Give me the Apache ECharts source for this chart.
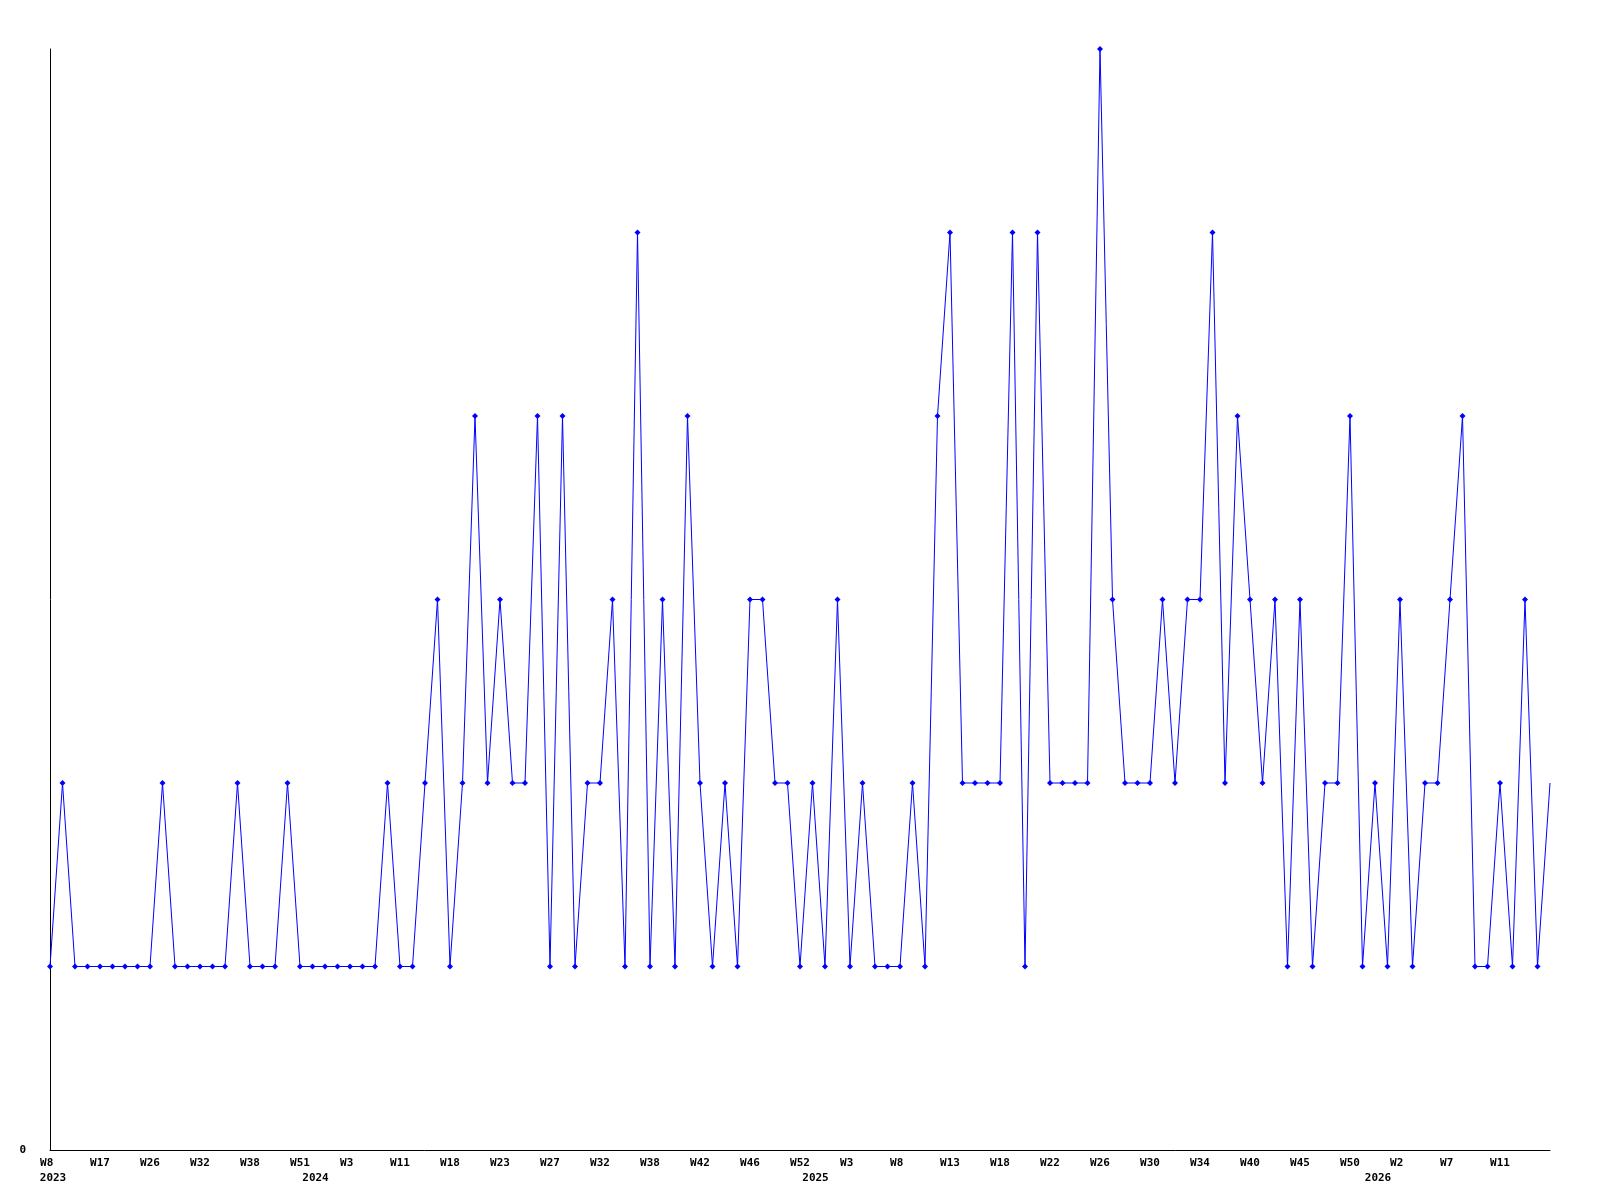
<!DOCTYPE html>
<html>
<head>
<meta charset="utf-8">
<script src="https://cdn.jsdelivr.net/npm/echarts@6/dist/echarts.min.js"></script>
<style>
  html, body { margin: 0; padding: 0; background: #ffffff; }
  #chart { width: 1600px; height: 1200px; }
</style>
</head>
<body>
<div id="chart"></div>
<script>
// Week categories (one per data point; every 4th one is labelled on the axis)
const weekLabels = [
  'W8','W10','W12','W14','W17','W19','W21','W23','W26','W27',
  'W29','W30','W32','W33','W35','W36','W38','W41','W45','W48',
  'W51','W52','W1','W2','W3','W5','W7','W9','W11','W13',
  'W15','W16','W18','W19','W20','W22','W23','W24','W25','W26',
  'W27','W28','W30','W31','W32','W34','W35','W37','W38','W39',
  'W40','W41','W42','W43','W44','W45','W46','W47','W49','W51',
  'W52','W53','W1','W2','W3','W4','W5','W7','W8','W9',
  'W10','W12','W13','W14','W15','W17','W18','W19','W20','W21',
  'W22','W23','W24','W25','W26','W27','W28','W29','W30','W31',
  'W32','W33','W34','W35','W37','W38','W40','W41','W43','W44',
  'W45','W46','W47','W49','W50','W51','W52','W1','W2','W3',
  'W4','W5','W7','W8','W9','W10','W11','W12','W13','W14',
  'W15'
];

// Weekly counts
const weeklyCounts = [
  1,2,1,1,1,1,1,1,1,2,
  1,1,1,1,1,2,1,1,1,2,
  1,1,1,1,1,1,1,2,1,1,
  2,3,1,2,4,2,3,2,2,4,
  1,4,1,2,2,3,1,5,1,3,
  1,4,2,1,2,1,3,3,2,2,
  1,2,1,3,1,2,1,1,1,2,
  1,4,5,2,2,2,2,5,1,5,
  2,2,2,2,6,3,2,2,2,3,
  2,3,3,5,2,4,3,2,3,1,
  3,1,2,2,4,1,2,1,3,1,
  2,2,3,4,1,1,2,1,3,1,
  2
];

// Year labels shown on the second row, with the category index they sit under
const yearLabels = ['2023', '2024', '2025', '2026'];
const yearLabelIndex = [0, 21, 61, 106];

// Y axis tick labels
const yTickLabels = ['0'];

const labelFont = {
  fontFamily: 'DejaVu Sans Mono',
  fontWeight: 'bold',
  fontSize: 11,
  color: '#000000'
};

const seriesData = weeklyCounts.map((v, i) =>
  i === weeklyCounts.length - 1 ? { value: v, symbol: 'none' } : v
);

const chart = echarts.init(document.getElementById('chart'), null, { renderer: 'canvas' });
chart.setOption({
  animation: false,
  backgroundColor: '#ffffff',
  grid: { left: 50, right: 50, top: 49, bottom: 50, containLabel: false },
  xAxis: [
    {
      type: 'category',
      data: weekLabels,
      boundaryGap: false,
      position: 'bottom',
      axisLine: { show: true, onZero: false, lineStyle: { color: '#000000', width: 1 } },
      axisTick: { show: false },
      splitLine: { show: false },
      axisLabel: Object.assign({
        margin: 8,
        hideOverlap: false,
        interval: (idx) => idx % 4 === 0 && idx < weekLabels.length - 1,
        formatter: (v) => v.padEnd(3, '\u00a0')
      }, labelFont)
    },
    {
      type: 'category',
      data: weekLabels,
      boundaryGap: false,
      position: 'bottom',
      offset: 15,
      axisLine: { show: false },
      axisTick: { show: false },
      splitLine: { show: false },
      axisLabel: Object.assign({
        margin: 8,
        hideOverlap: false,
        padding: [0, 0, 0, 6],
        interval: (idx) => yearLabelIndex.indexOf(idx) >= 0,
        formatter: (v, idx) => {
          const k = yearLabelIndex.indexOf(idx);
          return k >= 0 ? yearLabels[k] : '';
        }
      }, labelFont)
    }
  ],
  yAxis: {
    type: 'value',
    min: 0,
    max: 6,
    interval: 6,
    axisLine: { show: true, lineStyle: { color: '#000000', width: 1 } },
    axisTick: { show: false },
    splitLine: { show: false },
    axisLabel: Object.assign({
      margin: 24,
      formatter: (v) => (v === 0 ? yTickLabels[0] : '')
    }, labelFont)
  },
  series: [
    {
      type: 'line',
      xAxisIndex: 0,
      data: seriesData,
      symbol: 'diamond',
      symbolSize: 6,
      showAllSymbol: true,
      lineStyle: { color: '#0000ff', width: 1 },
      itemStyle: { color: '#0000ff', borderWidth: 0 },
      emphasis: { disabled: true }
    }
  ]
});
</script>
</body>
</html>
